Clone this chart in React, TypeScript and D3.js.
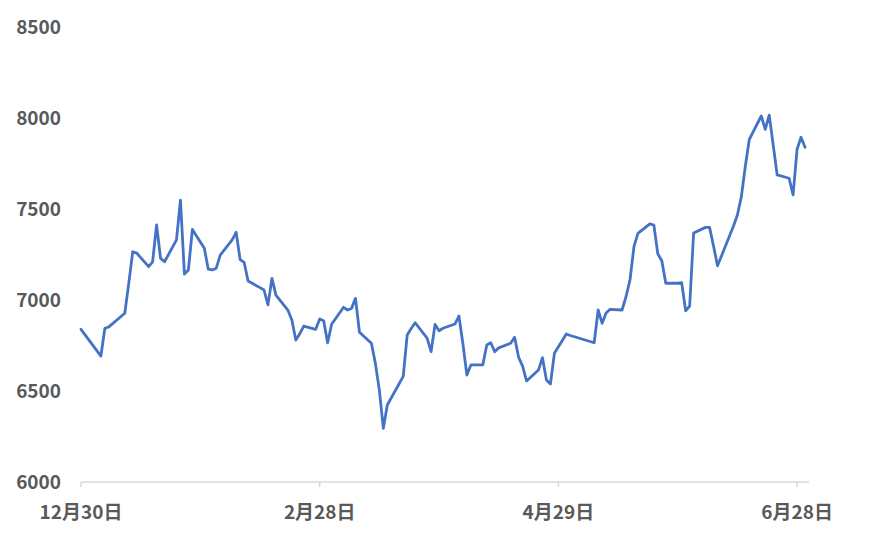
import React, { useEffect, useRef } from 'react';
import * as d3 from 'd3';

const dates = [
  '2016-12-30',
  '2017-01-04', '2017-01-05', '2017-01-06', '2017-01-10', '2017-01-11', '2017-01-12', '2017-01-13',
  '2017-01-16', '2017-01-17', '2017-01-18', '2017-01-19', '2017-01-20', '2017-01-23', '2017-01-24',
  '2017-01-25', '2017-01-26', '2017-01-27', '2017-01-30', '2017-01-31',
  '2017-02-01', '2017-02-02', '2017-02-03', '2017-02-06', '2017-02-07', '2017-02-08', '2017-02-09',
  '2017-02-10', '2017-02-13', '2017-02-14', '2017-02-15', '2017-02-16', '2017-02-17', '2017-02-20',
  '2017-02-21', '2017-02-22', '2017-02-23', '2017-02-24', '2017-02-27', '2017-02-28',
  '2017-03-01', '2017-03-02', '2017-03-03', '2017-03-06', '2017-03-07', '2017-03-08', '2017-03-09',
  '2017-03-10', '2017-03-13', '2017-03-14', '2017-03-15', '2017-03-16', '2017-03-17', '2017-03-21',
  '2017-03-22', '2017-03-23', '2017-03-24', '2017-03-27', '2017-03-28', '2017-03-29', '2017-03-30',
  '2017-03-31',
  '2017-04-03', '2017-04-04', '2017-04-05', '2017-04-06', '2017-04-07', '2017-04-10', '2017-04-11',
  '2017-04-12', '2017-04-13', '2017-04-14', '2017-04-17', '2017-04-18', '2017-04-19', '2017-04-20',
  '2017-04-21', '2017-04-24', '2017-04-25', '2017-04-26', '2017-04-27', '2017-04-28',
  '2017-05-01', '2017-05-02', '2017-05-08', '2017-05-09', '2017-05-10', '2017-05-11', '2017-05-12',
  '2017-05-15', '2017-05-16', '2017-05-17', '2017-05-18', '2017-05-19', '2017-05-22', '2017-05-23',
  '2017-05-24', '2017-05-25', '2017-05-26', '2017-05-29', '2017-05-30', '2017-05-31',
  '2017-06-01', '2017-06-02', '2017-06-05', '2017-06-06', '2017-06-07', '2017-06-08', '2017-06-09',
  '2017-06-12', '2017-06-13', '2017-06-14', '2017-06-15', '2017-06-16', '2017-06-19', '2017-06-20',
  '2017-06-21', '2017-06-22', '2017-06-23', '2017-06-26', '2017-06-27', '2017-06-28', '2017-06-29',
  '2017-06-30',
];

const values = [
  6839,
  6692, 6845, 6852, 6927, 7090, 7265, 7258,
  7183, 7210, 7412, 7229, 7210, 7330, 7549,
  7142, 7165, 7388, 7284, 7169,
  7165, 7175, 7247, 7330, 7372, 7222, 7207,
  7104, 7068, 7055, 6973, 7119, 7027, 6945,
  6890, 6780, 6815, 6857, 6839, 6896,
  6886, 6765, 6867, 6960, 6945, 6954, 7009,
  6823, 6762, 6652, 6505, 6295, 6423, 6580,
  6808, 6843, 6875, 6790, 6716, 6866, 6831,
  6845,
  6868, 6912, 6760, 6588, 6643, 6643, 6753,
  6765, 6716, 6737, 6762, 6795, 6685, 6637,
  6555, 6615, 6683, 6560, 6538, 6707,
  6813, 6805, 6765, 6945, 6872, 6928, 6949,
  6945, 7018, 7110, 7293, 7366, 7418, 7412,
  7253, 7216, 7092, 7092, 7095, 6940,
  6967, 7368, 7399, 7399, 7297, 7188, 7242,
  7405, 7467, 7568, 7736, 7883, 8011, 7938,
  8016, 7852, 7687, 7669, 7577, 7828, 7894,
  7839,
];

const xTicks = ['2016-12-30', '2017-02-28', '2017-04-29', '2017-06-28'];
const yTicks = [6000, 6500, 7000, 7500, 8000, 8500];

const width = 870;
const height = 552;

export default function App() {
  const ref = useRef<SVGSVGElement>(null);

  useEffect(() => {
    const svg = d3.select(ref.current);
    svg.selectAll('*').remove();

    const parse = d3.utcParse('%Y-%m-%d');
    const data = dates.map((d, i) => ({ date: parse(d) as Date, value: values[i] }));

    const x = d3.scaleUtc()
      .domain([parse('2016-12-30') as Date, parse('2017-07-01') as Date])
      .range([81, 809]);
    const y = d3.scaleLinear().domain([6000, 8500]).range([482, 27]);

    const font = '"Noto Sans CJK JP", "Noto Sans", sans-serif';

    // y labels
    svg.append('g')
      .selectAll('text')
      .data(yTicks)
      .join('text')
      .attr('x', 61)
      .attr('y', d => y(d))
      .attr('dy', '0.35em')
      .attr('text-anchor', 'end')
      .attr('font-family', font)
      .attr('font-size', 19)
      .attr('font-weight', 700)
      .attr('fill', '#595959')
      .text(d => d);

    // x axis line + ticks
    const axis = svg.append('g');
    axis.append('line')
      .attr('x1', x.range()[0]).attr('x2', x.range()[1])
      .attr('y1', 482).attr('y2', 482)
      .attr('stroke', '#d9d9d9')
      .attr('stroke-width', 1.5);

    const tickG = axis.selectAll('g.tick')
      .data(xTicks.map(t => parse(t) as Date))
      .join('g')
      .attr('class', 'tick')
      .attr('transform', d => `translate(${x(d)},482)`);

    tickG.append('line')
      .attr('y2', 5)
      .attr('stroke', '#d9d9d9')
      .attr('stroke-width', 1.5);

    tickG.append('text')
      .attr('y', 30)
      .attr('dy', '0.35em')
      .attr('text-anchor', 'middle')
      .attr('font-family', font)
      .attr('font-size', 19)
      .attr('font-weight', 700)
      .attr('fill', '#595959')
      .text(d => `${d.getUTCMonth() + 1}月${d.getUTCDate()}日`);

    const line = d3.line<{ date: Date; value: number }>()
      .x(d => x(d.date))
      .y(d => y(d.value));

    svg.append('path')
      .datum(data)
      .attr('d', line)
      .attr('fill', 'none')
      .attr('stroke', '#4472C4')
      .attr('stroke-width', 2.8)
      .attr('stroke-linejoin', 'round')
      .attr('stroke-linecap', 'round');
  }, []);

  return (
    <svg
      ref={ref}
      width={width}
      height={height}
      style={{ position: 'absolute', left: 0, top: 0, background: '#fff' }}
    />
  );
}
